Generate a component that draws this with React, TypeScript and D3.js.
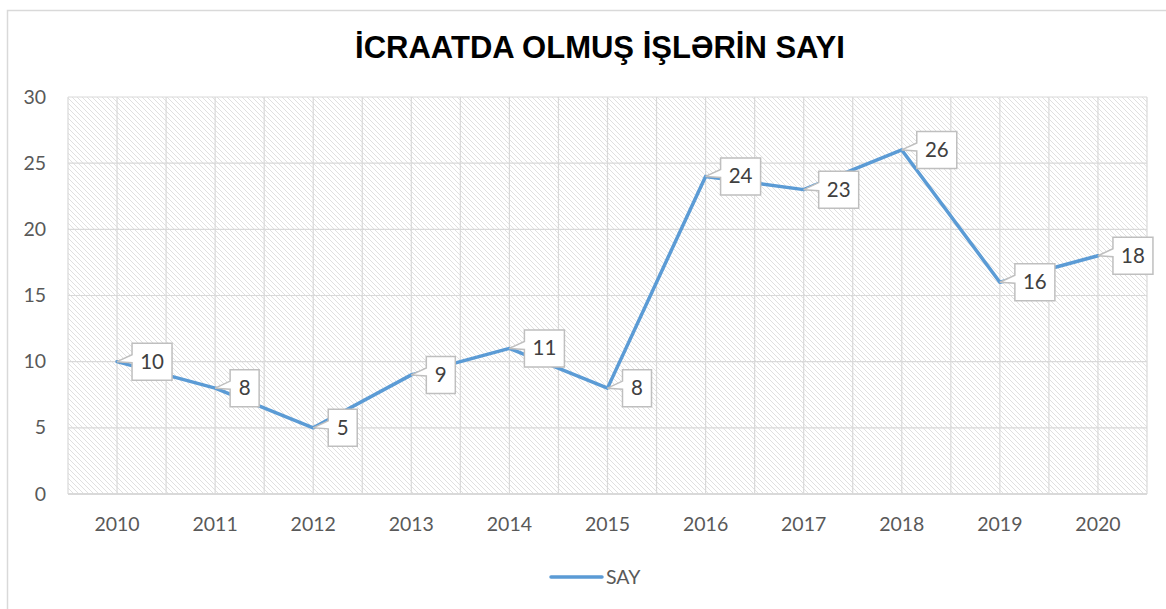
import React from 'react';
import * as d3 from 'd3';

const years = ['2010', '2011', '2012', '2013', '2014', '2015', '2016', '2017', '2018', '2019', '2020'];
const values = [10, 8, 5, 9, 11, 8, 24, 23, 26, 16, 18];
const yTicks = [0, 5, 10, 15, 20, 25, 30];
const seriesName = 'SAY';
const title = 'İCRAATDA OLMUŞ İŞLƏRİN SAYI';

const W = 1166;
const H = 609;
const plot = { left: 68, right: 1147, top: 97, bottom: 494 };
const lineColor = '#5b9bd5';
const gridColor = '#d9d9d9';
const textColor = '#595959';
const font = 'Lato, "Open Sans", sans-serif';

const App = () => {
    const x = d3.scaleBand().domain(years).range([plot.left, plot.right]);
    const y = d3.scaleLinear().domain([0, 30]).range([plot.bottom, plot.top]);
    const cx = (d: string) => (x(d) as number) + x.bandwidth() / 2;

    const line = d3.line<number>()
        .x((d, i) => cx(years[i]))
        .y(d => y(d));

    // gridlines every half category (boundaries and centres)
    const half = x.bandwidth() / 2;
    const vLines = d3.range(0, years.length * 2 + 1).map(i => plot.left + i * half);

    // callout label box with a pointer back to the point
    const callout = (v: number, i: number) => {
        const px = cx(years[i]);
        const py = y(v);
        const label = String(v);
        const w = label.length > 1 ? 40 : 29;
        const h = 37;
        const left = px + 15;
        const top = py - h / 2;
        const cy = py;
        const p = [
            `M${left},${top}`,
            `H${left + w}`,
            `V${top + h}`,
            `H${left}`,
            `V${cy + 1}`,
            `L${px},${py}`,
            `L${left},${cy - 7}`,
            'Z',
        ].join(' ');
        return (
            <g key={'lab' + i}>
                <path d={p} fill="#fff" stroke="#bfbfbf" strokeWidth={1.5} />
                <text x={left + w / 2} y={cy + 7} textAnchor="middle" fontSize={20.5} fill="#404040" fontFamily={font}>{label}</text>
            </g>
        );
    };

    return (
        <svg width={W} height={H} style={{ position: 'absolute', left: 0, top: 0 }}>
            <defs>
                <pattern id="hatch" patternUnits="userSpaceOnUse" width={5} height={5}>
                    <path d="M-1,-1 L6,6 M-1,4 L1,6 M4,-1 L6,1" stroke="#e0e0e0" strokeWidth={1} />
                </pattern>
            </defs>
            <rect x={0} y={0} width={W} height={H} fill="#fff" />
            <rect x={7.5} y={10.5} width={W} height={H} fill="#fff" stroke={gridColor} strokeWidth={1.5} />

            <text x={600} y={58} textAnchor="middle" fontSize={31} fontWeight="bold" fontFamily='"Liberation Sans", Arial, sans-serif' fill="#000">{title}</text>

            <rect x={plot.left} y={plot.top} width={plot.right - plot.left} height={plot.bottom - plot.top} fill="url(#hatch)" />

            {yTicks.map(t => (
                <line key={'h' + t} x1={plot.left} x2={plot.right} y1={y(t)} y2={y(t)} stroke={gridColor} strokeWidth={t === 0 ? 2 : 1.2} />
            ))}
            {vLines.map((v, i) => (
                <line key={'v' + i} x1={v} x2={v} y1={plot.top} y2={plot.bottom} stroke={gridColor} strokeWidth={1.2} />
            ))}

            {yTicks.map(t => (
                <text key={'yt' + t} x={46} y={y(t) + 6.5} textAnchor="end" fontSize={19.5} fill={textColor} fontFamily={font}>{t}</text>
            ))}
            {years.map(d => (
                <text key={'xt' + d} x={cx(d)} y={531} textAnchor="middle" fontSize={19.5} fill={textColor} fontFamily={font}>{d}</text>
            ))}

            <path d={line(values) || ''} fill="none" stroke={lineColor} strokeWidth={3.5} strokeLinejoin="round" strokeLinecap="round" />

            {values.map((v, i) => callout(v, i))}

            <line x1={551} x2={602} y1={577} y2={577} stroke={lineColor} strokeWidth={3.5} strokeLinecap="round" />
            <text x={606} y={584} fontSize={19.5} fill={textColor} fontFamily={font}>{seriesName}</text>
        </svg>
    );
};

export default App;
